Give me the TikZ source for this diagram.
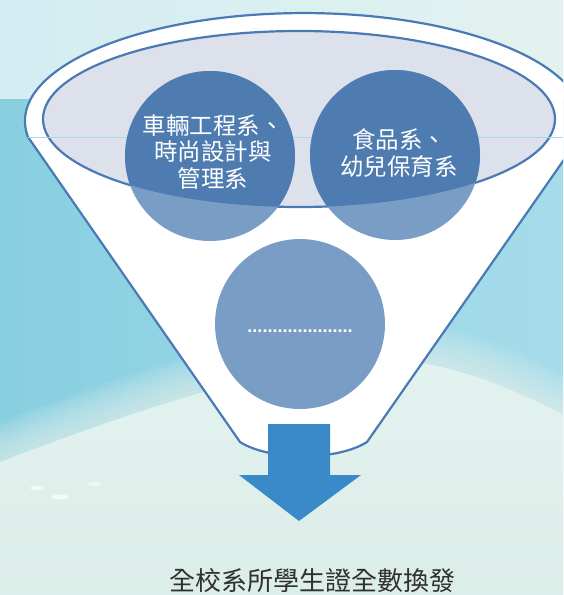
\documentclass[tikz,border=0pt]{standalone}
\usepackage{fontspec}
\newfontfamily\cjk{Noto Sans CJK TC}
\newfontfamily\dotfont{Liberation Sans}
\definecolor{rimblue}{HTML}{4A7AB5}
\definecolor{lidfill}{HTML}{DCE1EB}
\definecolor{darkball}{HTML}{4E7CB1}
\definecolor{lightball}{HTML}{7A9DC5}
\definecolor{arrowblue}{HTML}{3A89C9}
\definecolor{bgtopL}{HTML}{D3EDF2}
\definecolor{bgtopR}{HTML}{E2F2EF}
\definecolor{cyanL}{HTML}{88CFE0}
\definecolor{cyanR}{HTML}{A6DCEA}
\definecolor{paleA}{HTML}{E3F2EF}
\definecolor{paleB}{HTML}{DCEEE9}
\definecolor{seamline}{HTML}{A9D9E8}
\definecolor{captiongray}{HTML}{303030}
\tikzset{
  funnelbody/.style={fill=white, draw=rimblue, line width=2.2pt, line join=round},
  lid/.style={fill=lidfill, draw=rimblue, line width=2.2pt},
  ball/.style={circle, fill=lightball, minimum size=170pt, inner sep=0pt},
  balltext/.style={text=white, align=center, font=\cjk\fontsize{23.5}{26.5}\selectfont},
  dotstext/.style={text=white, font=\dotfont\bfseries\fontsize{18}{20}\selectfont, inner sep=0pt},
  caption/.style={text=captiongray, font=\cjk\fontsize{26}{30}\selectfont, inner sep=0pt},
  downarrow/.style={fill=arrowblue},
  seam/.style={draw=seamline, line width=0.8pt}
}
\begin{document}
\begin{tikzpicture}[x=1pt,y=-1pt]
\useasboundingbox (0,0) rectangle (563,595);
\begin{scope}
\clip (0,0) rectangle (563,595);
% background
\fill[paleB] (0,0) rectangle (563,595);
\shade[left color=bgtopL, right color=bgtopR] (0,0) rectangle (563,99);
\shade[left color=cyanL, right color=cyanR] (0,99) rectangle (563,490);
\foreach \d in {0,4,...,40}{
  \fill[paleA, opacity=0.1, yshift=\d pt] (0,462) .. controls (150,405) and (300,352) .. (427,364)
     .. controls (480,374) and (530,397) .. (563,415) -- (563,700) -- (0,700) -- cycle;
}
\shade[top color=paleA, bottom color=paleB] (0,462) .. controls (150,405) and (300,352) .. (427,364)
   .. controls (480,374) and (530,397) .. (563,415) -- (563,595) -- (0,595) -- cycle;
\fill[white, opacity=0.6] (37,488) ellipse[x radius=7, y radius=2.5];
\fill[white, opacity=0.6] (60,497) ellipse[x radius=9, y radius=2.5];
\fill[white, opacity=0.5] (95,484) ellipse[x radius=7, y radius=2];

% funnel body
\coordinate (fl) at (28,137);
\coordinate (bl) at (240,442);
\coordinate (br) at (367,442);
\path[funnelbody] (bl) -- (fl)
  arc[start angle=171.5, end angle=368.5, x radius=279, y radius=108]
  -- (br) .. controls (337,461) and (270,461) .. (bl) -- cycle;

% lid
\path[lid] (299,119) ellipse[x radius=256, y radius=88];
\coordinate (seamR) at (563,137);
\draw[seam] (fl) -- (seamR);

% balls
\node[ball] (c1) at (210,156) {};
\node[ball] (c2) at (395,155) {};
\node[ball] (c3) at (300,324) {};
\begin{scope}
  \clip (299,119) ellipse[x radius=256, y radius=88];
  \fill[darkball] (c1.center) circle[radius=85];
  \fill[darkball] (c2.center) circle[radius=85];
\end{scope}

\node[balltext] (t1) at (213,152) {車輛工程系、\\時尚設計與\\管理系};
\node[balltext] (t2) at (399,153) {食品系、\\幼兒保育系};
\node[dotstext] (t3) at (300,331) {.....................};

% arrow
\path[downarrow] (268,424) -- (330,424) -- (330,475) -- (361,475) -- (299,521)
   -- (239,475) -- (268,475) -- cycle;

% caption
\node[caption] (cap) at (312,581) {全校系所學生證全數換發};
\end{scope}
\end{tikzpicture}
\end{document}
